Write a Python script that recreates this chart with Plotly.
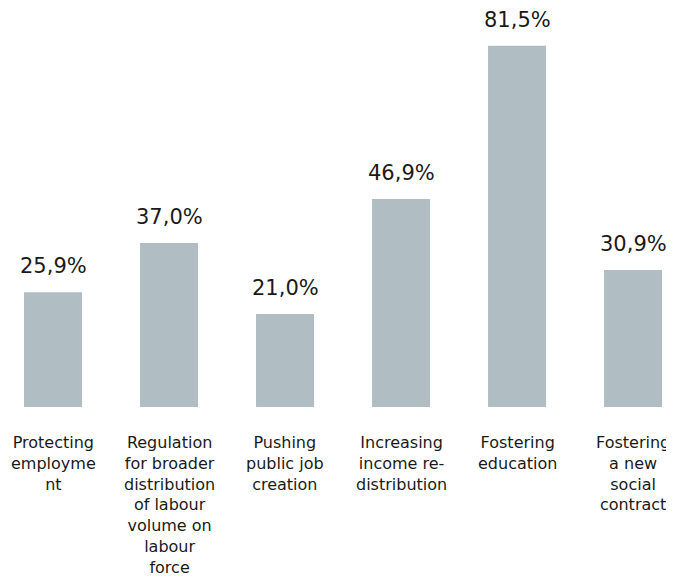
import plotly.graph_objects as go

# data
categories = [
    "Protecting employment",
    "Regulation for broader distribution of labour volume on labour force",
    "Pushing public job creation",
    "Increasing income re-distribution",
    "Fostering education",
    "Fostering a new social contract",
]
values = [25.9, 37.0, 21.0, 46.9, 81.5, 30.9]
value_labels = ["25,9%", "37,0%", "21,0%", "46,9%", "81,5%", "30,9%"]
tick_labels = [
    "Protecting<br>employme<br>nt",
    "Regulation<br>for broader<br>distribution<br>of labour<br>volume on<br>labour<br>force",
    "Pushing<br>public job<br>creation",
    "Increasing<br>income re-<br>distribution",
    "Fostering<br>education",
    "Fostering<br>a new<br>social<br>contract",
]

BAR_COLOR = "#b0bec3"
TEXT_COLOR = "#1a1a1a"
FONT = "DejaVu Sans"

fig = go.Figure()
fig.add_trace(go.Bar(
    x=categories,
    y=values,
    width=0.5,
    marker=dict(color=BAR_COLOR, line=dict(width=0)),
    hoverinfo="skip",
))

# value labels above bars
for cat, val, lab in zip(categories, values, value_labels):
    fig.add_annotation(
        x=cat, y=val, text=lab, showarrow=False,
        xanchor="center", yanchor="bottom", yshift=12,
        font=dict(family=FONT, size=21, color=TEXT_COLOR),
    )

# category labels below bars
for cat, lab in zip(categories, tick_labels):
    fig.add_annotation(
        x=cat, y=0, yref="paper", text=lab, showarrow=False,
        xanchor="center", yanchor="top", yshift=-24, align="center",
        font=dict(family=FONT, size=16, color=TEXT_COLOR),
    )

# the page body keeps its 8px default margin, so the figure is sized to fit
fig.update_layout(
    width=666,
    height=575,
    margin=dict(l=0, r=0, t=0, b=176),
    paper_bgcolor="white",
    plot_bgcolor="white",
    showlegend=False,
    xaxis=dict(visible=False, range=[-0.388, 5.353]),
    yaxis=dict(visible=False, range=[0, 90]),
)

fig.write_html("out.html")
